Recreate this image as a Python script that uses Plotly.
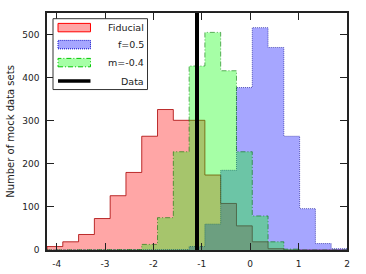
import numpy as np
import plotly.graph_objects as go

# Histogram bins (19 bins from -4.2 to 2.0)
bin_lo, bin_hi, n_bins = -4.2, 2.0, 19

fiducial_counts = [8, 19, 36, 73, 126, 180, 264, 326, 301, 301, 174, 108, 56, 19, 3, 0, 0, 0, 0]
f05_counts      = [0, 0, 0, 0, 0, 0, 0, 0, 1, 8, 60, 185, 377, 516, 470, 264, 96, 15, 3]
m04_counts      = [0, 0, 0, 0, 0, 1, 13, 75, 228, 427, 505, 416, 228, 79, 19, 2, 0, 0, 0]
data_value = -1.10

x_ticks = [-4, -3, -2, -1, 0, 1, 2]
x_ticktext = ["-4", "-3", "-2", "-1", "0", "1", "2"]
y_ticks = [0, 100, 200, 300, 400, 500]

edges = np.linspace(bin_lo, bin_hi, n_bins + 1)


def step_poly(counts):
    xs, ys = [edges[0]], [0]
    for i, c in enumerate(counts):
        xs += [edges[i], edges[i + 1]]
        ys += [c, c]
    xs.append(edges[-1])
    ys.append(0)
    return xs, ys


fig = go.Figure()
series = [
    (fiducial_counts, "rgba(255,0,0,0.35)", "rgba(170,0,0,0.8)", "solid"),
    (f05_counts, "rgba(0,0,255,0.35)", "rgba(0,0,140,0.6)", "1px,1px"),
    (m04_counts, "rgba(0,255,0,0.35)", "rgba(0,120,0,0.6)", "5px,2px,1px,2px"),
]
for counts, fc, lc, dash in series:
    xs, ys = step_poly(counts)
    fig.add_trace(go.Scatter(x=xs, y=ys, mode="lines", fill="toself", fillcolor=fc,
                             line=dict(color=lc, width=1, dash=dash), hoverinfo="skip",
                             showlegend=False))

fig.add_trace(go.Scatter(x=[data_value, data_value], y=[0, 550], mode="lines",
                         line=dict(color="black", width=4), showlegend=False))

font = "DejaVu Sans, sans-serif"
axis_common = dict(showline=True, linecolor="#222", linewidth=1.5, mirror="ticks",
                   ticks="inside", ticklen=7, tickwidth=1.2, tickcolor="#222",
                   showgrid=False, zeroline=False, automargin=False,
                   tickfont=dict(family=font, size=9, color="#222"))
fig.update_xaxes(range=[bin_lo, bin_hi], tickvals=x_ticks, ticktext=x_ticktext,
                 ticklabelstandoff=4, **axis_common)
fig.update_yaxes(range=[0, 550], tickvals=y_ticks, ticklabelstandoff=4,
                 title=dict(text="Number of mock data sets", font=dict(family=font, size=10, color="#222"),
                            standoff=6),
                 **axis_common)

# Manual legend (matplotlib style, labels right-aligned)
shapes = [dict(type="rect", xref="paper", yref="paper", x0=0.020, x1=0.335, y0=0.677, y1=0.976,
               line=dict(color="#333", width=1), fillcolor="white", layer="above")]
annotations = []
ph, pw = 237.0, 299.4
rows = [
    ("Fiducial", "rgba(255,0,0,0.35)", "rgb(255,0,0)", "solid", 27.3),
    ("f=0.5", "rgba(0,0,255,0.35)", "rgb(0,0,200)", "1px,1px", 44.3),
    ("m=-0.4", "rgba(0,255,0,0.35)", "rgb(0,200,0)", "5px,2px,1px,2px", 62.3),
]
px0, px1 = (58.3 - 47.3) / pw, (90.7 - 47.3) / pw
for label, fc, lc, dash, yc in rows:
    yp = (249.7 - yc) / ph
    shapes.append(dict(type="rect", xref="paper", yref="paper", x0=px0, x1=px1,
                       y0=yp - 4.2 / ph, y1=yp + 4.2 / ph, fillcolor=fc,
                       line=dict(color=lc, width=1, dash=dash), layer="above"))
    annotations.append(dict(text=label, xref="paper", yref="paper", x=(146.5 - 47.3) / pw, y=yp,
                            xanchor="right", yanchor="middle", showarrow=False,
                            font=dict(family=font, size=9.5, color="#222")))
yp = (249.7 - 80.7) / ph
shapes.append(dict(type="line", xref="paper", yref="paper", x0=px0, x1=px1, y0=yp, y1=yp,
                   line=dict(color="black", width=3.5), layer="above"))
annotations.append(dict(text="Data", xref="paper", yref="paper", x=(146.5 - 47.3) / pw, y=yp,
                        xanchor="right", yanchor="middle", showarrow=False,
                        font=dict(family=font, size=9.5, color="#222")))

fig.update_layout(width=366, height=274, margin=dict(l=47, r=19, t=13, b=24),
                  plot_bgcolor="white", paper_bgcolor="white", shapes=shapes,
                  annotations=annotations, showlegend=False)
fig.write_html("out.html", config={"displayModeBar": False},
               post_script="document.body.style.margin='0';document.body.style.padding='0';"
                           "document.body.style.overflow='hidden';")
